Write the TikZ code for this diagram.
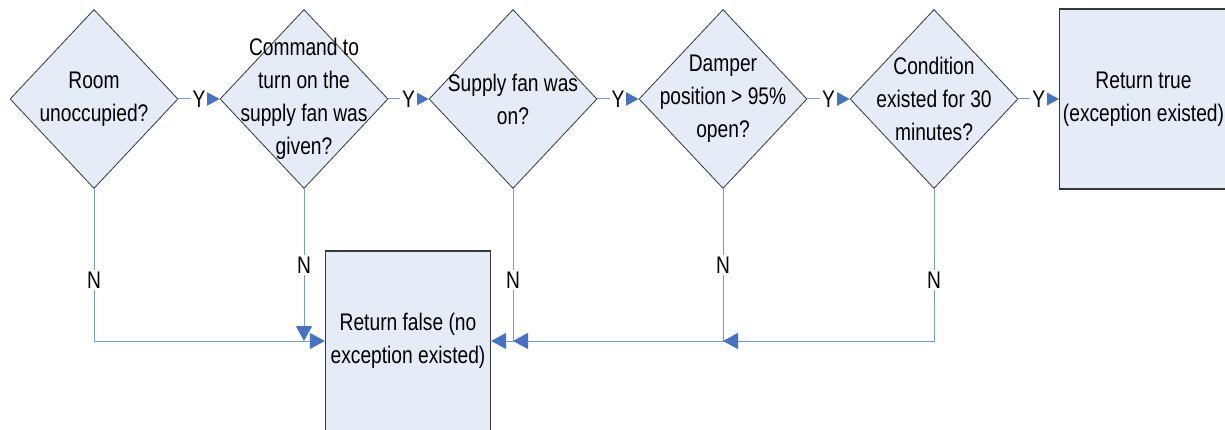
\documentclass[tikz,border=0pt]{standalone}
\usepackage{fontspec}
\setmainfont{Liberation Sans}[FakeStretch=0.8]
\usetikzlibrary{arrows.meta, positioning, shapes.geometric}
\definecolor{boxfill}{RGB}{229,236,247}
\definecolor{boxborder}{RGB}{55,55,55}
\definecolor{linkblue}{RGB}{120,155,212}
\definecolor{tipblue}{RGB}{68,114,196}

\begin{document}
\begin{tikzpicture}[
    x=1pt,
    y=1pt,
    font=\fontsize{24}{33}\selectfont,
    decision/.style={diamond, draw=boxborder, line width=0.8pt, fill=boxfill, minimum width=168pt, minimum height=179pt, inner sep=0pt},
    question/.style={align=center, inner sep=0pt},
    result/.style={draw=boxborder, line width=1.4pt, fill=boxfill, align=center, minimum width=165pt, minimum height=180pt},
    link/.style={draw=linkblue, line width=1pt, -{Triangle[length=15pt, width=16pt, color=tipblue]}},
    answer/.style={fill=white, inner sep=2pt}
]
\useasboundingbox (0,0) rectangle (1225,429);
% decisions along the top row
\node[decision] (room) at (94,330) {};
\node[decision] (command) at (304,330) {};
\node[decision] (fanon) at (513,330) {};
\node[decision] (damper) at (723,330) {};
\node[decision] (duration) at (934,330) {};
\node[question] (roomtxt) at (room) {Room\\unoccupied?};
\node[question] (commandtxt) at (command) {Command to\\turn on the\\supply fan was\\given?};
\node[question] (fanontxt) at (fanon) {Supply fan was\\on?};
\node[question] (dampertxt) at (damper) {Damper\\position > 95\%\\open?};
\node[question] (durationtxt) at (duration) {Condition\\existed for 30\\minutes?};
% outcomes
\node[result] (truebox) at (1143.5,330) {Return true\\(exception existed)};
\node[result] (falsebox) at (408,88) {Return false (no\\exception existed)};
% yes branches
\draw[link] (room.east) -- node[answer] {Y} (command.west);
\draw[link] (command.east) -- node[answer] {Y} (fanon.west);
\draw[link] (fanon.east) -- node[answer] {Y} (damper.west);
\draw[link] (damper.east) -- node[answer] {Y} (duration.west);
\draw[link] (duration.east) -- node[answer] {Y} (truebox.west);
% no branches
\draw[link] (room.south) |- node[answer, pos=0.3] {N} (falsebox.west);
\draw[link] (command.south) -- node[answer, pos=0.5] {N} (command.south |- falsebox.west);
\draw[link] (fanon.south) |- node[answer, pos=0.3] {N} (falsebox.east);
\draw[link] (damper.south) |- node[answer, pos=0.25] {N} (fanon.south |- falsebox.east);
\draw[link] (duration.south) |- node[answer, pos=0.3] {N} (damper.south |- falsebox.east);
\end{tikzpicture}
\end{document}
